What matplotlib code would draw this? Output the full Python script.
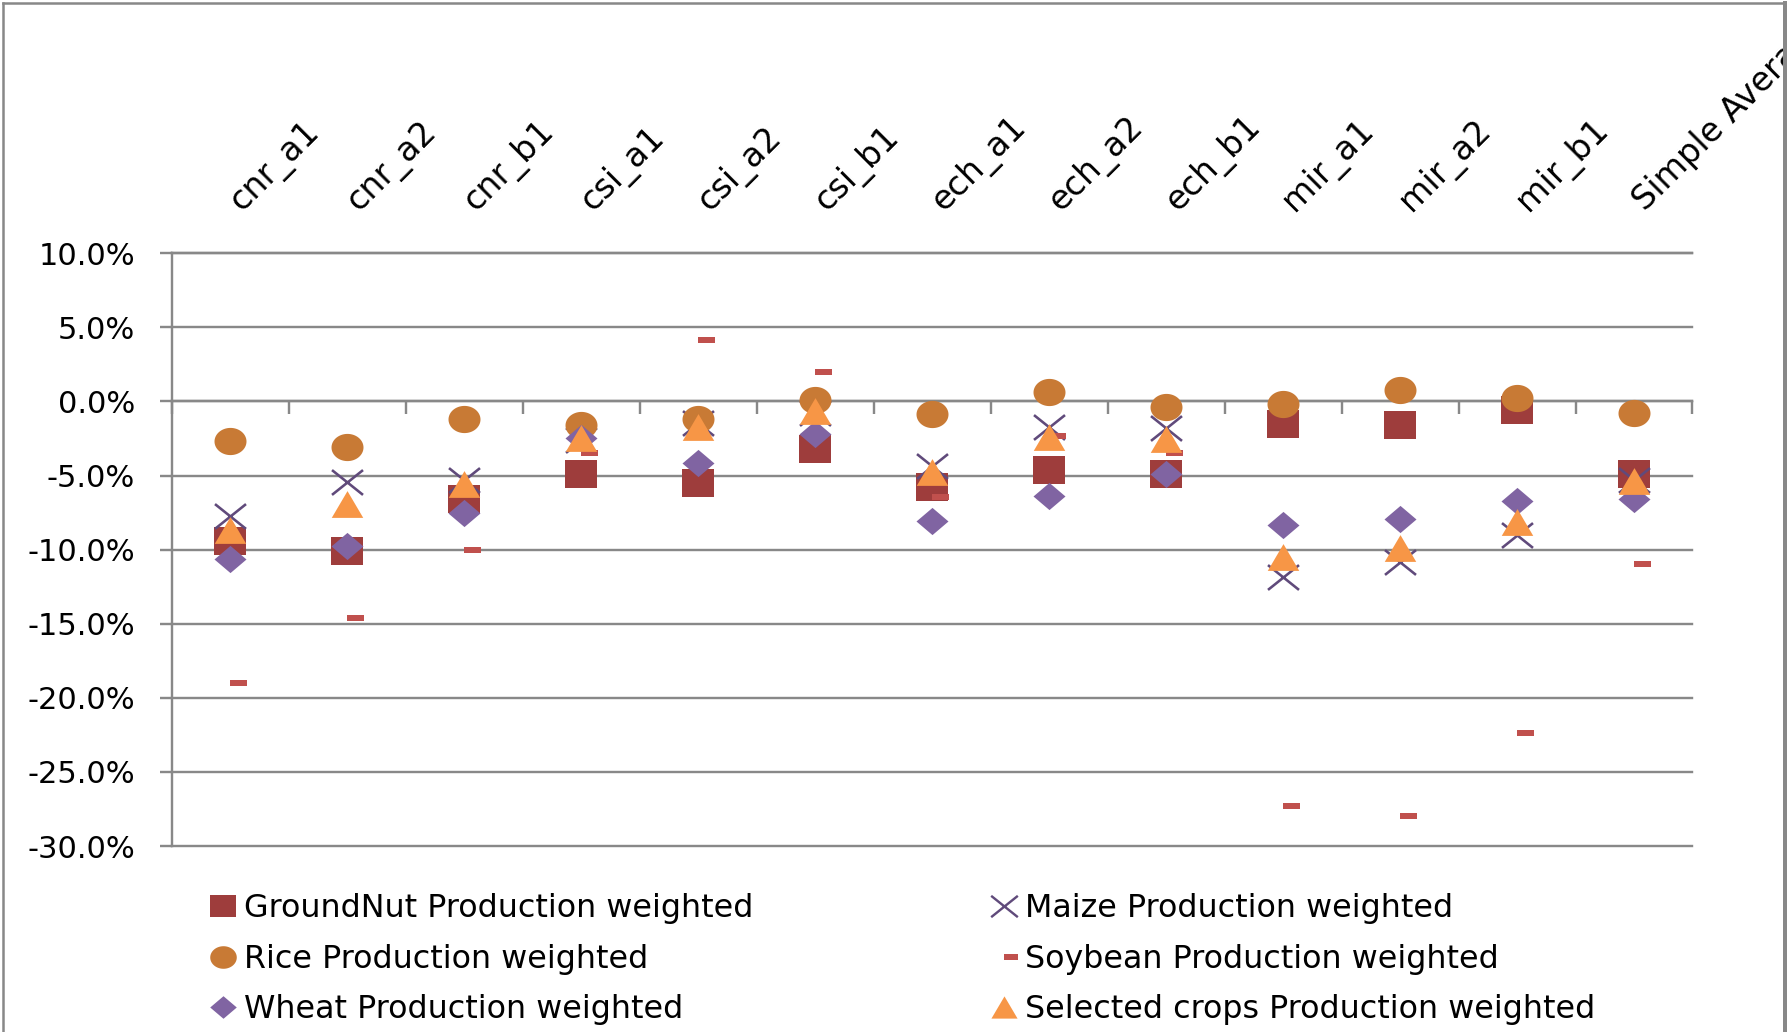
import numpy as np
import matplotlib
matplotlib.use("Agg")
import matplotlib.pyplot as plt
import matplotlib.transforms as mtransforms
from matplotlib.path import Path
from matplotlib.lines import Line2D
from matplotlib.ticker import FuncFormatter, MultipleLocator

# ---- data (percent change) ----
categories = ["cnr_a1", "cnr_a2", "cnr_b1", "csi_a1", "csi_a2", "csi_b1",
              "ech_a1", "ech_a2", "ech_b1", "mir_a1", "mir_a2", "mir_b1",
              "Simple Average"]
groundnut = [-9.4, -10.1, -6.6, -4.9, -5.5, -3.2, -5.8, -4.6, -4.9, -1.5, -1.6, -0.6, -4.9]
maize     = [-7.75, -5.45, -5.3, -2.6, -1.45, -0.8, -4.35, -1.7, -1.8, -11.85, -10.85, -9.0, -5.3]
rice      = [-2.7, -3.05, -1.2, -1.6, -1.2, 0.1, -0.85, 0.65, -0.35, -0.2, 0.75, 0.25, -0.8]
soybean   = [-19.0, -14.6, -10.0, -3.5, 4.15, 2.0, -6.45, -2.3, -3.5, -27.3, -28.0, -22.4, -11.0]
wheat     = [-10.65, -9.75, -7.55, -2.45, -4.15, -2.2, -8.1, -6.35, -4.9, -8.35, -7.9, -6.75, -6.6]
selected  = [-8.65, -6.95, -5.6, -2.45, -1.7, -0.65, -4.75, -2.4, -2.5, -10.5, -9.9, -8.15, -5.35]

plt.rcParams['font.family'] = ['DejaVu Sans']
plt.rcParams['axes.unicode_minus'] = False

W, H, DPI = 1787, 1032, 100
def pt(pixels):
    return pixels * 72.0 / DPI

GREY = '#888888'

# ---- marker shapes (slightly wider than tall) ----
asp = 0.85
m_square = [(-1, -asp), (1, -asp), (1, asp), (-1, asp), (-1, -asp)]
_t = np.linspace(0, 2 * np.pi, 64)
m_ellipse = list(zip(np.cos(_t), asp * np.sin(_t)))
m_diamond = [(-1, 0), (0, asp), (1, 0), (0, -asp), (-1, 0)]
m_triangle = [(-1, -asp), (1, -asp), (0, asp), (-1, -asp)]
m_cross = Path([(-1, -0.8), (1, 0.8), (-1, 0.8), (1, -0.8)],
               [Path.MOVETO, Path.LINETO, Path.MOVETO, Path.LINETO])
m_dash = [(0, -0.2), (1, -0.2), (1, 0.2), (0, 0.2), (0, -0.2)]

# label, values, marker, colour, size (px), hollow?
series = [
    ("GroundNut Production weighted", groundnut, m_square, '#9E3D3C', 32, False),
    ("Maize Production weighted", maize, m_cross, '#604A7B', 31, True),
    ("Rice Production weighted", rice, m_ellipse, '#C87A35', 32, False),
    ("Soybean Production weighted", soybean, m_dash, '#C0504D', 34, False),
    ("Wheat Production weighted", wheat, m_diamond, '#8064A2', 32, False),
    ("Selected crops Production weighted", selected, m_triangle, '#F79646', 31.5, False),
]

fig = plt.figure(figsize=(W / DPI, H / DPI), dpi=DPI)
ax_left, ax_right, ax_top, ax_bottom = 171.7, 1692.5, 253.3, 846.0
ax = fig.add_axes([ax_left / W, 1 - ax_bottom / H,
                   (ax_right - ax_left) / W, (ax_bottom - ax_top) / H])

x = np.arange(len(categories))
for z, (label, vals, mk, col, ms, hollow) in enumerate(series):
    if hollow:
        ax.plot(x, vals, ls='none', marker=mk, ms=pt(ms), mfc='none',
                mec=col, mew=pt(2.6), zorder=3 + z)
    else:
        ax.plot(x, vals, ls='none', marker=mk, ms=pt(ms), mfc=col,
                mec=col, mew=0, zorder=3 + z)

# ---- axes ----
ax.set_xlim(-0.5, len(categories) - 0.5)
ax.set_ylim(-30, 10)
ax.yaxis.set_major_locator(MultipleLocator(5))
ax.yaxis.set_major_formatter(FuncFormatter(lambda v, p: f"{v:.1f}%"))
ax.grid(axis='y', color=GREY, lw=pt(2.4))
ax.set_axisbelow(True)

ax.spines['right'].set_visible(False)
for side in ('top', 'left', 'bottom'):
    ax.spines[side].set_color(GREY)
    ax.spines[side].set_linewidth(pt(2.4))
ax.spines['bottom'].set_position(('data', 0))

ax.set_xticks(np.arange(-0.5, len(categories)))
ax.tick_params(axis='x', direction='out', length=pt(13), width=pt(2.4),
               color=GREY, labelbottom=False)
ax.tick_params(axis='y', direction='out', length=pt(11.7), width=pt(2.4),
               color=GREY, labelsize=22, pad=pt(25), labelcolor='black')

# category names above the plot, rotated
trans = mtransforms.blended_transform_factory(ax.transData, ax.transAxes) + \
    mtransforms.ScaledTranslation(11 / DPI, 0, fig.dpi_scale_trans)
ylab = 1 + (ax_top - 212) / (ax_bottom - ax_top)
for i, name in enumerate(categories):
    ax.text(x[i], ylab, name, transform=trans, rotation=45,
            rotation_mode='anchor', ha='left', va='baseline',
            fontsize=24, clip_on=False)

# ---- legend in two columns ----
fs_leg = 22.9
fs_px = fs_leg * DPI / 72.0
proxies = []
for label, vals, mk, col, ms, hollow in series:
    if hollow:
        h = Line2D([], [], ls='none', marker=mk, ms=pt(ms * 0.86), mfc='none',
                   mec=col, mew=pt(2.4))
    else:
        h = Line2D([], [], ls='none', marker=mk, ms=pt(ms * 0.83), mfc=col,
                   mec=col, mew=0)
    proxies.append((h, label))

leg_kw = dict(loc='upper left', frameon=False, fontsize=fs_leg, borderpad=0,
              borderaxespad=0, handlelength=26.5 / fs_px,
              handletextpad=8 / fs_px, labelspacing=0.62, numpoints=1)
col1 = [proxies[0], proxies[2], proxies[4]]
col2 = [proxies[1], proxies[3], proxies[5]]
fig.legend([h for h, _ in col1], [l for _, l in col1],
           bbox_to_anchor=(209.25 / W, 1 - 893 / H), **leg_kw)
fig.legend([h for h, _ in col2], [l for _, l in col2],
           bbox_to_anchor=(990.75 / W, 1 - 893 / H), **leg_kw)

# ---- chart-area border ----
fig.add_artist(Line2D([2.5 / W, 2.5 / W], [0, 1 - 2.5 / H], transform=fig.transFigure,
                      color=GREY, lw=pt(2.5)))
fig.add_artist(Line2D([2.5 / W, 1784.5 / W], [1 - 2.5 / H, 1 - 2.5 / H],
                      transform=fig.transFigure, color=GREY, lw=pt(2.5)))
fig.add_artist(Line2D([1784.5 / W, 1784.5 / W], [0, 1 - 2.5 / H], transform=fig.transFigure,
                      color=GREY, lw=pt(5)))

fig.canvas.draw()
for gl in ax.get_ygridlines():
    gl.set_clip_on(False)

fig.savefig("out.png", dpi=DPI, facecolor='white')
